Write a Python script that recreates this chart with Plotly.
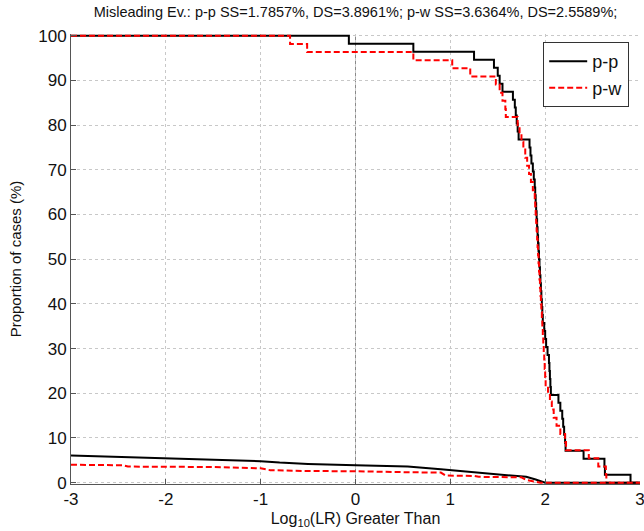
import plotly.graph_objects as go

# ---- data ----
# p-p same-source: proportion of cases (%) with log10(LR) greater than x (step curve)
pp_ss_x = [-3, -0.07, 0.61, 1.25, 1.46, 1.50, 1.52, 1.55, 1.66, 1.68, 1.69, 1.70, 1.71, 1.72,
           1.835, 1.845, 1.855, 1.87, 1.88, 1.89, 1.895, 1.90, 1.905, 1.91, 1.915, 1.92, 1.925,
           1.93, 1.935, 1.94, 1.945, 1.95, 1.955, 1.96, 1.965, 1.97, 1.975, 1.99, 2.0, 2.01,
           2.025, 2.04, 2.045, 2.05, 2.055, 2.06, 2.14, 2.16, 2.18, 2.19, 2.20, 2.21, 2.215,
           2.405, 2.625, 2.63, 2.9, 3.0]
pp_ss_y = [100, 98.21, 96.43, 94.64, 92.86, 91.07, 89.29, 87.5, 85.71, 83.93, 82.14, 80.36,
           78.57, 76.79, 75.0, 73.21, 71.43, 69.64, 67.86, 66.07, 64.29, 62.5, 60.71, 58.93,
           57.14, 55.36, 53.57, 51.79, 50.0, 48.21, 46.43, 44.64, 42.86, 41.07, 39.29, 37.5,
           35.71, 33.93, 32.14, 30.36, 28.57, 26.79, 25.0, 23.21, 21.43, 19.64, 17.86, 16.07,
           14.29, 12.5, 10.71, 8.93, 7.14, 5.36, 3.57, 1.79, 0, 0]

# p-w same-source
pw_ss_x = [-3, -0.69, -0.51, 0.61, 1.02, 1.21, 1.48, 1.52, 1.55, 1.58, 1.585, 1.71, 1.73, 1.75,
           1.77, 1.79, 1.81, 1.83, 1.85, 1.87, 1.89, 1.895, 1.90, 1.905, 1.91, 1.915, 1.92,
           1.925, 1.93, 1.935, 1.94, 1.945, 1.95, 1.955, 1.96, 1.965, 1.97, 1.975, 1.98, 1.985,
           1.99, 1.995, 2.0, 2.005, 2.03, 2.05, 2.07, 2.09, 2.12, 2.16, 2.21, 2.22, 2.46, 2.56,
           2.64, 2.645, 3.0]
pw_ss_y = [100, 98.18, 96.36, 94.55, 92.73, 90.91, 89.09, 87.27, 85.45, 83.64, 81.82, 80.0,
           78.18, 76.36, 74.55, 72.73, 70.91, 69.09, 67.27, 65.45, 63.64, 61.82, 60.0, 58.18,
           56.36, 54.55, 52.73, 50.91, 49.09, 47.27, 45.45, 43.64, 41.82, 40.0, 38.18, 36.36,
           34.55, 32.73, 30.91, 29.09, 27.27, 25.45, 23.64, 21.82, 20.0, 18.18, 16.36, 14.55,
           12.73, 10.91, 9.09, 7.27, 5.45, 3.64, 1.82, 0, 0]

# p-p different-source
pp_ds_x = [-3, -2.5, -2, -1.5, -1, -0.8, -0.5, 0, 0.3, 0.55, 0.9, 1.25, 1.6, 1.8, 1.9, 1.95, 2.0, 3.0]
pp_ds_y = [6.1, 5.8, 5.5, 5.15, 4.8, 4.5, 4.2, 3.9, 3.8, 3.6, 3.0, 2.4, 1.8, 1.3, 0.7, 0.3, 0, 0]

# p-w different-source
pw_ds_x = [-3, -2.45, -2.4, -1.5, -1, -0.9, -0.5, 0, 0.5, 0.9, 0.95, 1.25, 1.3, 1.75, 1.8, 1.9, 1.95, 3.0]
pw_ds_y = [4.0, 3.9, 3.6, 3.5, 3.2, 2.8, 2.6, 2.56, 2.35, 2.25, 1.6, 1.5, 1.3, 1.2, 0.6, 0.3, 0, 0]

x_ticks = [-3, -2, -1, 0, 1, 2, 3]
y_ticks = [0, 10, 20, 30, 40, 50, 60, 70, 80, 90, 100]

title_text = ("Misleading Ev.: p-p SS=1.7857%, DS=3.8961%; "
              "p-w SS=3.6364%, DS=2.5589%;")

FONT = "Liberation Sans, Arial, sans-serif"
BLACK = "#000000"
RED = "#ff0000"

fig = go.Figure()
fig.add_trace(go.Scatter(x=pp_ss_x, y=pp_ss_y, mode="lines", name="p-p",
                         legendgroup="pp", line=dict(color=BLACK, width=2, shape="hv")))
fig.add_trace(go.Scatter(x=pw_ss_x, y=pw_ss_y, mode="lines", name="p-w",
                         legendgroup="pw", line=dict(color=RED, width=2, shape="hv", dash="6px,3px")))
fig.add_trace(go.Scatter(x=pp_ds_x, y=pp_ds_y, mode="lines", name="p-p", showlegend=False,
                         legendgroup="pp", line=dict(color=BLACK, width=2)))
fig.add_trace(go.Scatter(x=pw_ds_x, y=pw_ds_y, mode="lines", name="p-w", showlegend=False,
                         legendgroup="pw", line=dict(color=RED, width=2, dash="6px,3px")))

fig.add_shape(type="line", xref="x", yref="paper", x0=0, x1=0, y0=0, y1=1,
              line=dict(color="#8a8a8a", width=1, dash="dot"), layer="below")

fig.update_layout(
    width=644, height=531,
    margin=dict(l=71, r=4, t=34, b=47),
    paper_bgcolor="white", plot_bgcolor="white",
    font=dict(family=FONT, size=16, color="#111111"),
    title=dict(text=title_text, x=0.5, xref="paper", xanchor="center",
               y=0.987, yref="container", yanchor="top",
               font=dict(family=FONT, size=14.5, color="#111111")),
    legend=dict(x=0.981, y=0.982, xanchor="right", yanchor="top",
                bgcolor="white", bordercolor="#333333", borderwidth=1,
                font=dict(family=FONT, size=18, color="#111111"),
                itemwidth=38, tracegroupgap=0),
    showlegend=True,
)
fig.update_xaxes(range=[-3, 3], tickvals=x_ticks, ticktext=[str(v) for v in x_ticks],
                 automargin=False,
                 showgrid=True, gridcolor="#c8c8c8", griddash="dot", gridwidth=1,
                 zeroline=False, showline=True, linecolor="#555555", linewidth=1,
                 ticks="inside", ticklen=5, tickcolor="#555555",
                 ticklabeloverflow="allow",
                 tickfont=dict(size=17, color="#111111"),
                 title=dict(text="Log<sub>10</sub>(LR) Greater Than", standoff=4,
                            font=dict(size=16, color="#111111")))
fig.update_yaxes(range=[-0.3, 100.4], tickvals=y_ticks, automargin=False,
                 showgrid=True, gridcolor="#c8c8c8", griddash="dot", gridwidth=1,
                 zeroline=False, showline=True, linecolor="#555555", linewidth=1,
                 ticks="inside", ticklen=5, tickcolor="#555555",
                 tickfont=dict(size=17, color="#111111"),
                 title=dict(text="Proportion of cases (%)", standoff=12,
                            font=dict(size=15, color="#111111")))

fig.write_html("out.html")
